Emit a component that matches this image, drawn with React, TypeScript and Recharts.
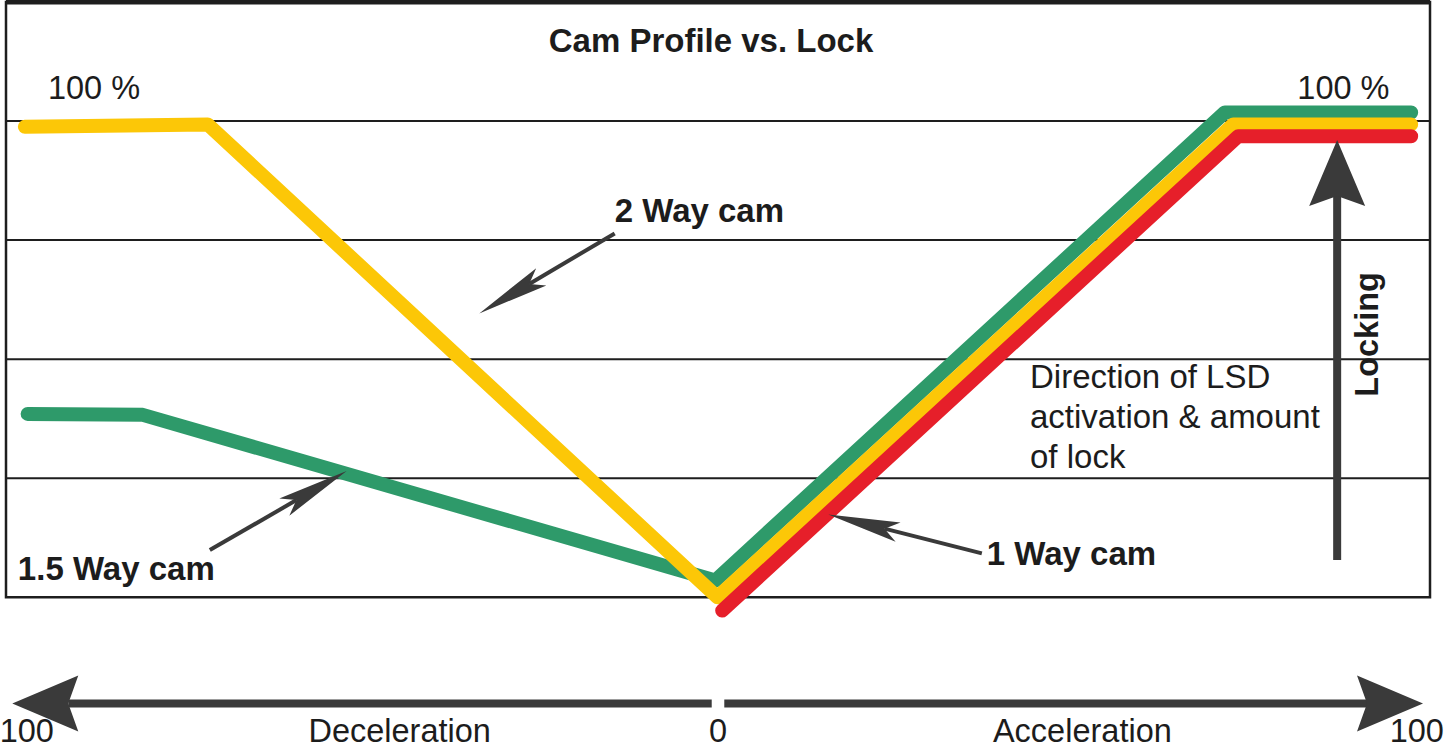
import React from 'react';
import { ComposedChart, Line, XAxis, YAxis, ReferenceLine, ReferenceArea, ReferenceDot } from 'recharts';

// Horizontal axis: -100 (full deceleration) .. 0 .. 100 (full acceleration)
// Vertical axis: amount of lock in %
const twoWayX = [-99.3, -73.1, -0.1, 73.8, 99.3];
const twoWayY = [98.8, 99.3, 0.0, 99.3, 99.3];
const onePointFiveWayX = [-98.9, -82.4, -0.4, 72.6, 99.3];
const onePointFiveWayY = [38.5, 38.3, 3.5, 101.8, 101.8];
const oneWayX = [0.6, 74.5, 99.3];
const oneWayY = [-2.8, 96.8, 96.8];

const gridLevels = [25, 50, 75, 100];
const title = 'Cam Profile vs. Lock';
const seriesNames = ['2 Way cam', '1.5 Way cam', '1 Way cam'];
const bottomLabels = ['100', 'Deceleration', '0', 'Acceleration', '100'];
const bottomLabelX = [-102.9, -45.6, 0, 52.2, 104.0];
const bottomLabelAnchor = ['start', 'middle', 'middle', 'middle', 'end'];
const noteLines = ['Direction of LSD', 'activation & amount', 'of lock'];
const noteBaselines = [43.9, 35.5, 27.1];

const toPoints = (xs: number[], ys: number[]) => xs.map((x, i) => ({ x, y: ys[i] }));
const twoWay = toPoints(twoWayX, twoWayY);
const onePointFiveWay = toPoints(onePointFiveWayX, onePointFiveWayY);
const oneWay = toPoints(oneWayX, oneWayY);

const FONT = '"Liberation Sans", Arial, Helvetica, sans-serif';
const INK = '#1c1c1c';
const ARROW = '#3a3a3a';
const GREEN = '#2e9a6a';
const YELLOW = '#fcc707';
const RED = '#e61f2a';

const textShape = (txt: string, opts: { size?: number; bold?: boolean; anchor?: string; rotate?: number }) =>
  (p: any) => {
    const { cx, cy } = p;
    return (
      <text
        x={cx}
        y={cy}
        fontFamily={FONT}
        fontSize={opts.size ?? 32.5}
        fontWeight={opts.bold ? 700 : 400}
        fill={INK}
        textAnchor={(opts.anchor as any) ?? 'start'}
        transform={opts.rotate ? `rotate(${opts.rotate} ${cx} ${cy})` : undefined}
      >
        {txt}
      </text>
    );
  };

// line with an arrowhead at (x2,y2)
const arrowShape = (opts: { width: number; headLen: number; headHalf: number; notch: number }) =>
  (p: any) => {
    const { x1, y1, x2, y2 } = p;
    const dx = x2 - x1;
    const dy = y2 - y1;
    const len = Math.sqrt(dx * dx + dy * dy) || 1;
    const ux = dx / len;
    const uy = dy / len;
    const nx = -uy;
    const ny = ux;
    const bx = x2 - ux * opts.headLen;
    const by = y2 - uy * opts.headLen;
    const mx = x2 - ux * (opts.headLen - opts.notch);
    const my = y2 - uy * (opts.headLen - opts.notch);
    const pts = [
      [x2, y2],
      [bx + nx * opts.headHalf, by + ny * opts.headHalf],
      [mx, my],
      [bx - nx * opts.headHalf, by - ny * opts.headHalf],
    ]
      .map((q) => q.join(','))
      .join(' ');
    return (
      <g>
        <line x1={x1} y1={y1} x2={mx} y2={my} stroke={ARROW} strokeWidth={opts.width} />
        <polygon points={pts} fill={ARROW} />
      </g>
    );
  };

const smallArrow = arrowShape({ width: 4, headLen: 72, headHalf: 10, notch: 14 });
const bigArrow = arrowShape({ width: 8, headLen: 66, headHalf: 28, notch: 10 });

export default function App() {
  return (
    <div style={{ position: 'absolute', left: 0, top: 0, width: 1445, height: 753, background: '#fff' }}>
      <ComposedChart
        width={1445}
        height={753}
        margin={{ top: 2, right: 15, bottom: 1, left: 6 }}
      >
        <XAxis type="number" dataKey="x" domain={[-102, 102]} allowDataOverflow hide />
        <YAxis type="number" dataKey="y" domain={[-32.5, 125]} allowDataOverflow hide />

        {gridLevels.map((g) => (
          <ReferenceLine
            key={'g' + g}
            segment={[{ x: -102, y: g }, { x: 102, y: g }]}
            stroke="#1e1e1e"
            strokeWidth={2}
          />
        ))}
        <ReferenceArea x1={-102} x2={102} y1={0} y2={125} fill="none" stroke="#1e1e1e" strokeWidth={2.5} />
        <ReferenceLine segment={[{ x: -102, y: 125 }, { x: 102, y: 125 }]} stroke="#1e1e1e" strokeWidth={5} />

        <Line data={onePointFiveWay} dataKey="y" stroke={GREEN} strokeWidth={14} strokeLinecap="round" strokeLinejoin="round" dot={false} isAnimationActive={false} />
        <Line data={twoWay} dataKey="y" stroke={YELLOW} strokeWidth={14} strokeLinecap="round" strokeLinejoin="round" dot={false} isAnimationActive={false} />
        <Line data={oneWay} dataKey="y" stroke={RED} strokeWidth={14} strokeLinecap="round" strokeLinejoin="round" dot={false} isAnimationActive={false} />

        {/* annotation arrows */}
        <ReferenceLine segment={[{ x: -14.8, y: 76.4 }, { x: -34.2, y: 59.6 }]} shape={smallArrow} />
        <ReferenceLine segment={[{ x: -72.8, y: 9.9 }, { x: -53.2, y: 26.5 }]} shape={smallArrow} />
        <ReferenceLine segment={[{ x: 37.8, y: 9.2 }, { x: 15.8, y: 17.4 }]} shape={smallArrow} />
        <ReferenceLine segment={[{ x: 88.7, y: 7.8 }, { x: 88.7, y: 96.0 }]} shape={bigArrow} />
        <ReferenceLine segment={[{ x: -0.9, y: -22.3 }, { x: -101.1, y: -22.3 }]} shape={bigArrow} ifOverflow="visible" />
        <ReferenceLine segment={[{ x: 0.9, y: -22.3 }, { x: 101.0, y: -22.3 }]} shape={bigArrow} ifOverflow="visible" />

        {/* texts */}
        <ReferenceDot x={-1} y={114.4} r={0} ifOverflow="visible" shape={textShape(title, { bold: true, anchor: 'middle', size: 33 })} />
        <ReferenceDot x={-96} y={104.6} r={0} ifOverflow="visible" shape={textShape('100 %', {})} />
        <ReferenceDot x={83} y={104.6} r={0} ifOverflow="visible" shape={textShape('100 %', {})} />
        <ReferenceDot x={-14.8} y={78.75} r={0} ifOverflow="visible" shape={textShape(seriesNames[0], { bold: true, size: 33 })} />
        <ReferenceDot x={-100.3} y={3.57} r={0} ifOverflow="visible" shape={textShape(seriesNames[1], { bold: true, size: 33 })} />
        <ReferenceDot x={38.5} y={6.72} r={0} ifOverflow="visible" shape={textShape(seriesNames[2], { bold: true, size: 33 })} />
        {noteLines.map((t, i) => (
          <ReferenceDot key={'n' + i} x={44.7} y={noteBaselines[i]} r={0} ifOverflow="visible" shape={textShape(t, { size: 33 })} />
        ))}
        <ReferenceDot x={94.6} y={55.2} r={0} ifOverflow="visible" shape={textShape('Locking', { bold: true, anchor: 'middle', rotate: -90 })} />
        {bottomLabels.map((t, i) => (
          <ReferenceDot key={'b' + i} x={bottomLabelX[i]} y={-30.4} r={0} ifOverflow="visible" shape={textShape(t, { anchor: bottomLabelAnchor[i] })} />
        ))}
      </ComposedChart>
    </div>
  );
}
